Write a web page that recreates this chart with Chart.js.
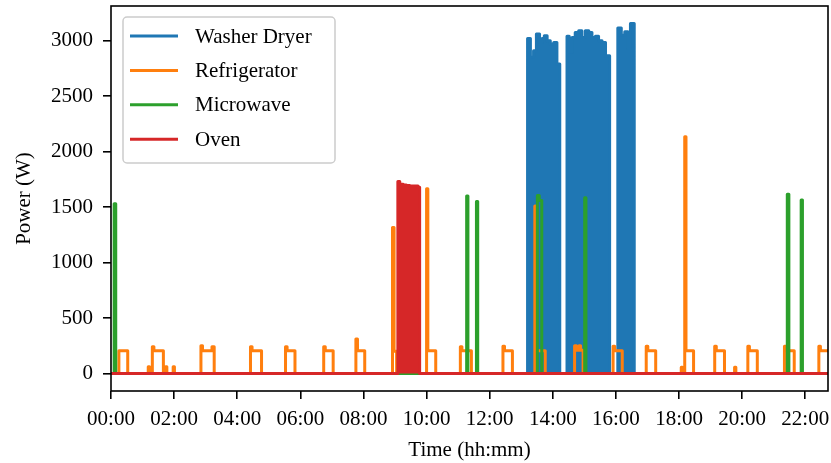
<!DOCTYPE html>
<html>
<head>
<meta charset="utf-8">
<script src="https://cdn.jsdelivr.net/npm/chart.js@4/dist/chart.umd.min.js"></script>
<style>
  body { margin: 0; background: #fff; }
  canvas { display: block; }
</style>
</head>
<body>
<canvas id="chart" width="831" height="463"></canvas>
<script>
// axes (hours of the day on x, watts on y)
const xTicks = [0, 2, 4, 6, 8, 10, 12, 14, 16, 18, 20, 22];
const xTickLabels = ['00:00', '02:00', '04:00', '06:00', '08:00', '10:00',
  '12:00', '14:00', '16:00', '18:00', '20:00', '22:00'];
const yTicks = [0, 500, 1000, 1500, 2000, 2500, 3000];
const xRange = [0, 22.72];
const yRange = [-158, 3313];

const seriesNames = ['Washer Dryer', 'Refrigerator', 'Microwave', 'Oven'];

// [hour, watts] change points, value holds until next point
const washerDryer = [
  [0, 0],
  [13.20, 3020], [13.29, 2850], [13.39, 2910], [13.48, 3060], [13.58, 2985],
  [13.66, 3020], [13.73, 3045], [13.82, 3000], [13.92, 2970], [14.03, 2985],
  [14.13, 2790], [14.22, 0],
  [14.45, 3040], [14.52, 2895], [14.61, 3030], [14.71, 3075], [14.82, 3090],
  [14.92, 3030], [15.03, 3090], [15.14, 3075], [15.24, 3030], [15.35, 3040],
  [15.45, 3000], [15.56, 2985], [15.67, 2865], [15.80, 0],
  [16.06, 3115], [16.17, 3050], [16.28, 3080], [16.38, 2930], [16.46, 3155],
  [16.58, 0],
  [22.72, 0]
];

const refrigerator = [
  [0, 0],
  [0.25, 205], [0.53, 0],
  [1.18, 60], [1.22, 0],
  [1.31, 240], [1.36, 205], [1.66, 0],
  [1.73, 60], [1.77, 0], [1.97, 60], [2.01, 0],
  [2.85, 250], [2.90, 205], [3.20, 240], [3.27, 0],
  [4.42, 240], [4.47, 205], [4.77, 0],
  [5.53, 240], [5.58, 205], [5.83, 0],
  [6.74, 240], [6.79, 205], [7.04, 0],
  [7.76, 310], [7.81, 205], [8.04, 0],
  [8.92, 1315], [8.97, 200], [9.05, 0],
  [10.00, 1665], [10.04, 205], [10.29, 0],
  [11.07, 240], [11.12, 205], [11.42, 0],
  [12.42, 245], [12.47, 205], [12.72, 0],
  [13.43, 1510], [13.47, 205], [13.76, 0],
  [14.69, 250], [14.75, 210], [14.83, 250], [14.88, 210], [14.96, 0],
  [15.91, 245], [15.96, 205], [16.20, 0],
  [16.96, 245], [17.01, 205], [17.26, 0],
  [18.07, 55], [18.11, 0],
  [18.18, 2135], [18.22, 205], [18.46, 0],
  [19.13, 245], [19.18, 205], [19.44, 0],
  [19.76, 55], [19.80, 0],
  [20.18, 245], [20.23, 205], [20.48, 0],
  [21.34, 245], [21.39, 205], [21.65, 0],
  [22.43, 245], [22.48, 205], [22.72, 205]
];

const microwave = [
  [0, 0],
  [0.10, 1530], [0.15, 0],
  [11.27, 1600], [11.31, 0],
  [11.58, 1550], [11.62, 0],
  [13.51, 1605], [13.57, 1560], [13.65, 0],
  [15.01, 1585], [15.05, 0],
  [21.43, 1615], [21.48, 0],
  [21.87, 1565], [21.91, 0],
  [22.72, 0]
];

const oven = [
  [0, 0],
  [9.09, 1730], [9.15, 1705], [9.26, 1700], [9.36, 1695], [9.47, 1690],
  [9.73, 1680], [9.78, 0],
  [22.72, 0]
];

const colors = ['#1f77b4', '#ff7f0e', '#2ca02c', '#d62728'];
const FONT = "'Liberation Serif', 'Times New Roman', serif";

const toXY = arr => arr.map(p => ({ x: p[0], y: p[1] }));

// legend inside the axes + all four spines, matplotlib style
const mplFrame = {
  id: 'mplFrame',
  afterDatasetsDraw(chart) {
    const { ctx, chartArea: a } = chart;
    const x = a.left + 12, y = a.top + 11, w = 212, h = 146;
    ctx.save();
    ctx.fillStyle = 'rgba(255,255,255,0.8)';
    ctx.strokeStyle = '#cccccc';
    ctx.lineWidth = 1.5;
    ctx.beginPath();
    ctx.roundRect(x, y, w, h, 4);
    ctx.fill();
    ctx.stroke();
    ctx.font = '21px ' + FONT;
    ctx.textBaseline = 'middle';
    ctx.fillStyle = '#000';
    chart.data.datasets.forEach((ds, i) => {
      const cy = y + 19 + i * 34.4;
      ctx.strokeStyle = ds.borderColor;
      ctx.lineWidth = 3;
      ctx.beginPath();
      ctx.moveTo(x + 7, cy);
      ctx.lineTo(x + 55, cy);
      ctx.stroke();
      ctx.fillText(ds.label, x + 72, cy + 1);
    });
    ctx.strokeStyle = '#000';
    ctx.lineWidth = 1.6;
    ctx.strokeRect(a.left, a.top, a.right - a.left, a.bottom - a.top);
    ctx.restore();
  }
};

new Chart(document.getElementById('chart').getContext('2d'), {
  type: 'line',
  data: {
    datasets: [
      { label: seriesNames[0], data: toXY(washerDryer), borderColor: colors[0],
        backgroundColor: colors[0], fill: 'origin', order: 3 },
      { label: seriesNames[1], data: toXY(refrigerator), borderColor: colors[1],
        fill: false, order: 2 },
      { label: seriesNames[2], data: toXY(microwave), borderColor: colors[2],
        fill: false, order: 1 },
      { label: seriesNames[3], data: toXY(oven), borderColor: colors[3],
        backgroundColor: colors[3], fill: 'origin', order: 0 }
    ]
  },
  options: {
    responsive: false,
    animation: false,
    layout: { padding: { left: 0, right: 3, top: 6, bottom: 0 } },
    elements: {
      point: { radius: 0 },
      line: { borderWidth: 3, stepped: 'before', tension: 0,
              borderJoinStyle: 'round', borderCapStyle: 'butt' }
    },
    plugins: {
      legend: { display: false },
      tooltip: { enabled: false }
    },
    scales: {
      x: {
        type: 'linear',
        min: xRange[0],
        max: xRange[1],
        afterBuildTicks: s => { s.ticks = xTicks.map(v => ({ value: v })); },
        afterFit: s => { s.height = 72; s.paddingLeft = 0; s.paddingRight = 0; },
        border: { display: false },
        grid: { drawOnChartArea: false, drawTicks: true, tickLength: 8,
                color: '#000', lineWidth: 1.6 },
        ticks: {
          autoSkip: false, maxRotation: 0, padding: 8, color: '#000',
          font: { family: FONT, size: 21 },
          callback: v => xTickLabels[xTicks.indexOf(v)]
        },
        title: { display: true, text: 'Time (hh:mm)', color: '#000',
                 font: { family: FONT, size: 21 }, padding: { top: 2, bottom: 0 } }
      },
      y: {
        type: 'linear',
        min: yRange[0],
        max: yRange[1],
        afterBuildTicks: s => { s.ticks = yTicks.map(v => ({ value: v })); },
        afterFit: s => { s.width = 111; s.paddingTop = 0; s.paddingBottom = 0; },
        border: { display: false },
        grid: { drawOnChartArea: false, drawTicks: true, tickLength: 8,
                color: '#000', lineWidth: 1.6 },
        ticks: {
          padding: 10, color: '#000',
          font: { family: FONT, size: 21 },
          callback: v => String(v)
        },
        title: { display: true, text: 'Power (W)', color: '#000',
                 font: { family: FONT, size: 21 }, padding: { top: 12, bottom: 0 } }
      }
    }
  },
  plugins: [mplFrame]
});
</script>
</body>
</html>
